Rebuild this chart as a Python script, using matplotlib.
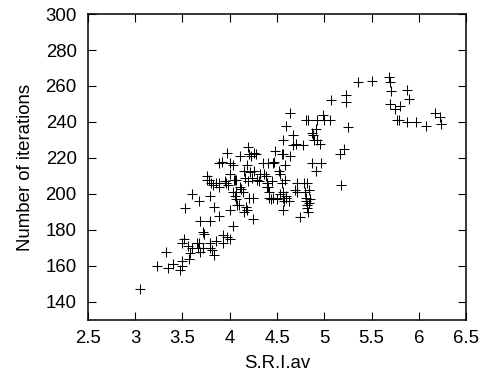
"""Scatter of iteration count against S.R.I.av (gnuplot-style look)."""

import matplotlib
matplotlib.use("Agg")
import matplotlib.pyplot as plt
from matplotlib.ticker import FormatStrFormatter, FuncFormatter

# S.R.I.av values
sri_av = [
    3.05, 3.23, 3.33, 3.35, 3.40, 3.47, 3.49, 3.49, 3.57, 3.58,
    3.50, 3.52, 3.56, 3.60, 3.53, 3.60, 3.68, 3.69, 3.79, 3.72,
    3.73, 3.65, 3.66, 3.69, 3.72, 3.68, 3.79, 3.79, 3.83, 3.81,
    3.86, 3.93, 3.93, 3.97, 4.00, 4.03, 4.00, 3.89, 3.83, 3.79,
    3.76, 3.78, 3.80, 3.82, 3.85, 3.89, 3.89, 3.95, 3.96, 3.89,
    3.92, 3.97, 4.00, 4.00, 4.04, 4.06, 4.07, 4.03, 4.06, 4.07,
    4.07, 4.08, 4.10, 4.11, 4.14, 4.15, 4.18, 4.17, 4.15, 4.16,
    4.18, 4.19, 4.20, 4.22, 4.21, 4.19, 4.24, 4.26, 4.20, 4.25,
    4.25, 4.26, 4.28, 4.29, 4.31, 4.35, 4.36, 4.32, 4.39, 4.38,
    4.42, 4.42, 4.45, 4.46, 4.41, 4.39, 4.44, 4.46, 4.48, 4.52,
    4.53, 4.55, 4.56, 4.55, 4.56, 4.56, 4.57, 4.56, 4.58, 4.58,
    4.60, 4.56, 4.60, 4.64, 4.64, 4.63, 4.67, 4.67, 4.70, 4.69,
    4.71, 4.71, 4.74, 4.78, 4.79, 4.80, 4.81, 4.83, 4.81, 4.82,
    4.82, 4.83, 4.84, 4.85, 4.84, 4.87, 4.88, 4.87, 4.89, 4.91,
    4.91, 4.92, 4.92, 4.95, 4.97, 4.99, 5.00, 5.06, 5.07, 5.17,
    5.18, 5.21, 5.23, 5.23, 5.25, 5.36, 5.51, 5.68, 5.70, 5.71,
    5.69, 5.75, 5.77, 5.79, 5.80, 5.87, 5.90, 5.88, 5.97, 6.08,
    6.17, 6.22, 6.23,
    3.76, 4.03, 4.11, 4.47, 4.50, 4.53, 4.81, 4.82, 4.60, 3.98,
    4.12, 4.40,
]

# matching iteration counts
iterations = [
    147, 160, 168, 159, 161, 158, 160, 163, 164, 167,
    173, 175, 171, 170, 192, 200, 196, 185, 185, 179,
    178, 173, 170, 168, 170, 173, 173, 170, 166, 169,
    174, 177, 173, 176, 175, 182, 191, 188, 193, 199,
    210, 208, 206, 205, 206, 206, 204, 207, 206, 217,
    218, 223, 217, 211, 208, 208, 208, 201, 199, 201,
    197, 194, 194, 221, 201, 190, 191, 193, 213, 209,
    216, 226, 222, 221, 212, 207, 209, 213, 198, 198,
    186, 223, 222, 208, 207, 217, 211, 211, 206, 210,
    201, 198, 207, 217, 217, 204, 197, 198, 224, 213,
    211, 222, 222, 206, 201, 198, 196, 191, 216, 208,
    198, 230, 238, 245, 221, 196, 233, 227, 228, 202,
    206, 201, 187, 227, 206, 201, 241, 241, 196, 194,
    192, 190, 195, 197, 202, 234, 233, 217, 230, 236,
    213, 241, 230, 228, 217, 244, 241, 241, 252, 222,
    205, 225, 255, 251, 237, 262, 263, 265, 262, 257,
    250, 247, 241, 241, 249, 258, 253, 240, 240, 238,
    245, 243, 239,
    208, 216, 204, 218, 197, 200, 198, 206, 199, 205,
    203, 204,
]

x_ticks = [2.5, 3, 3.5, 4, 4.5, 5, 5.5, 6, 6.5]
y_ticks = [140, 160, 180, 200, 220, 240, 260, 280, 300]


def main():
    plt.rcParams["font.family"] = ["Liberation Sans", "DejaVu Sans"]

    fig = plt.figure(figsize=(4.83, 3.79), dpi=100)
    ax = fig.add_axes([0.182, 0.156, 0.783, 0.807])

    ax.plot(sri_av, iterations, linestyle="none", marker="+",
            markersize=7, markeredgewidth=0.75, color="black")

    ax.set_xlim(2.5, 6.5)
    ax.set_ylim(130, 300)
    ax.set_xticks(x_ticks)
    ax.set_yticks(y_ticks)
    ax.xaxis.set_major_formatter(FuncFormatter(lambda v, _: f"{v:g}"))
    ax.yaxis.set_major_formatter(FormatStrFormatter("%d"))

    ax.tick_params(direction="in", length=6, width=0.8, labelsize=13.4,
                   top=True, right=True)
    ax.tick_params(axis="x", pad=7)
    ax.tick_params(axis="y", pad=8)
    for s in ax.spines.values():
        s.set_linewidth(1.1)

    ax.set_xlabel("S.R.I.av", fontsize=13.4, labelpad=6)
    ax.set_ylabel("Number of iterations", fontsize=13.4, labelpad=8)

    fig.savefig("out.png", dpi=100)


if __name__ == "__main__":
    main()
